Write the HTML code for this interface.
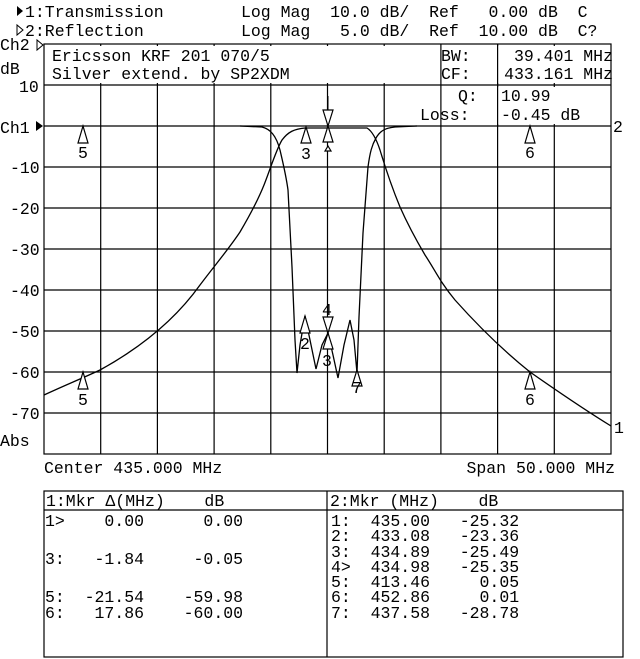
<!DOCTYPE html>
<html><head><meta charset="utf-8"><style>
html,body{margin:0;padding:0;background:#fff;}
svg{display:block;}
text{font-family:"Liberation Mono",monospace;font-size:16.5px;fill:#000;white-space:pre;}
</style></head><body>
<svg width="640" height="659" viewBox="0 0 640 659" xmlns="http://www.w3.org/2000/svg">
<rect width="640" height="659" fill="#fff"/>
<path d="M17 6 L17 16 L23 11 Z" fill="#000"/>
<text x="25" y="17">1:Transmission</text>
<path d="M17 25 L17 35 L23 30 Z" fill="none" stroke="#000"/>
<text x="25" y="36">2:Reflection</text>
<text x="241" y="17">Log Mag  10.0 dB/  Ref   0.00 dB  C</text>
<text x="241" y="36">Log Mag   5.0 dB/  Ref  10.00 dB  C?</text>
<text x="0" y="50">Ch2</text>
<path d="M37 40 L37 50 L43 45 Z" fill="none" stroke="#000"/>
<text x="0" y="74">dB</text>
<text x="19" y="92">10</text>
<text x="0" y="133">Ch1</text>
<path d="M36 121 L36 131 L43 126 Z" fill="#000"/>
<text x="10" y="173">-10</text>
<text x="10" y="214">-20</text>
<text x="10" y="255">-30</text>
<text x="10" y="296">-40</text>
<text x="10" y="337">-50</text>
<text x="10" y="378">-60</text>
<text x="10" y="419">-70</text>
<text x="0" y="446">Abs</text>
<text x="613" y="132">2</text>
<text x="614" y="433">1</text>
<g stroke="#000" stroke-width="1.2" fill="none">
<rect x="44" y="44" width="567" height="410"/>
<path d="M100.7 44V454M157.4 44V454M214.1 44V454M270.8 44V454M327.5 44V454M384.2 44V454M440.9 44V454M497.6 44V454M554.3 44V454"/>
<path d="M44 85H611M44 126H611M44 167H611M44 208H611M44 249H611M44 290H611M44 331H611M44 372H611M44 413H611"/>
</g>
<rect x="46" y="46" width="392" height="37" fill="#fff"/>
<rect x="443" y="46" width="166" height="37" fill="#fff"/>
<rect x="443" y="87" width="166" height="37" fill="#fff"/>
<path d="M497.6 44V126" stroke="#000" stroke-width="1.2"/>
<text x="52" y="61">Ericsson KRF 201 070/5</text>
<text x="52" y="79">Silver extend. by SP2XDM</text>
<text x="441" y="61">BW:</text>
<text x="441" y="79">CF:</text>
<text x="613" y="61" text-anchor="end">39.401 MHz</text>
<text x="613" y="79" text-anchor="end">433.161 MHz</text>
<text x="458" y="101">Q:</text>
<text x="420" y="120">Loss:</text>
<text x="501" y="101">10.99</text>
<text x="501" y="120">-0.45 dB</text>
<g fill="none" stroke="#000" stroke-width="1.3">
<path d="M44 395 C70 383 83 378 100 370 C140 348 175 320 200 285 C215 265 228 250 240 232 C250 215 258 200 264 185 C270 170 276 150 282 140 C288 132 294 129 305 128 L367 128 C372 131 376 138 380 150 C386 170 393 190 400 207 C408 225 415 238 425 255 C435 270 440 282 455 300 C480 328 505 352 530 372 C560 393 585 410 611 426"/>
<path d="M240 126 L262 127 C270 129 276 135 280 150 C283 163 286 175 288 190 L292 267 L295 340 L297 373 L300 345 L305 316 L310 340 L316 369 L322 345 L328 333 L333 355 L338 378 L344 345 L350 320 L354 340 L357 373 L359 317 L363 233 L368 167 C370 152 372 145 376 138 C380 131 385 128 395 127 L417 126"/>
</g>
<g fill="#fff" stroke="#000" stroke-width="1.2">
<path d="M83 126 L78 143 L88 143 Z"/>
<path d="M306 127 L301 143 L311 143 Z"/>
<path d="M530 126 L525 143 L535 143 Z"/>
<path d="M328 126 L323 110 L333 110 Z"/>
<path d="M328 126 L323 142 L333 142 Z"/>
<path d="M328 146 L325 151 L331 151 Z"/>
<path d="M83 372 L78 389 L88 389 Z"/>
<path d="M530 372 L525 389 L535 389 Z"/>
<path d="M305 316 L300 333 L310 333 Z"/>
<path d="M328 333 L323 317 L333 317 Z"/>
<path d="M328 333 L323 349 L333 349 Z"/>
<path d="M357 370 L352 386 L362 386 Z"/>
</g>
<path d="M328 96 V110" stroke="#000"/>
<text x="78" y="158">5</text>
<text x="301" y="159">3</text>
<text x="525" y="158">6</text>
<text x="78" y="405">5</text>
<text x="525" y="405">6</text>
<text x="300" y="349">2</text>
<text x="322" y="315">4</text>
<text x="322" y="366">3</text>
<text x="352" y="393">7</text>
<text x="44" y="473">Center 435.000 MHz</text>
<text x="615" y="473" text-anchor="end">Span 50.000 MHz</text>
<g stroke="#000" stroke-width="1.2" fill="none">
<rect x="44" y="491" width="579" height="166"/>
<path d="M327 491V657M44 510H623"/>
</g>
<text x="46" y="506">1:Mkr Δ(MHz)    dB</text>
<text x="330" y="506">2:Mkr (MHz)    dB</text>
<text x="45" y="526">1&gt;    0.00      0.00</text>
<text x="45" y="564">3:   -1.84     -0.05</text>
<text x="45" y="602">5:  -21.54    -59.98</text>
<text x="45" y="618">6:   17.86    -60.00</text>
<text x="331" y="526">1:  435.00   -25.32</text>
<text x="331" y="541">2:  433.08   -23.36</text>
<text x="331" y="557">3:  434.89   -25.49</text>
<text x="331" y="572">4&gt;  434.98   -25.35</text>
<text x="331" y="587">5:  413.46     0.05</text>
<text x="331" y="602">6:  452.86     0.01</text>
<text x="331" y="618">7:  437.58   -28.78</text>
</svg>
</body></html>
